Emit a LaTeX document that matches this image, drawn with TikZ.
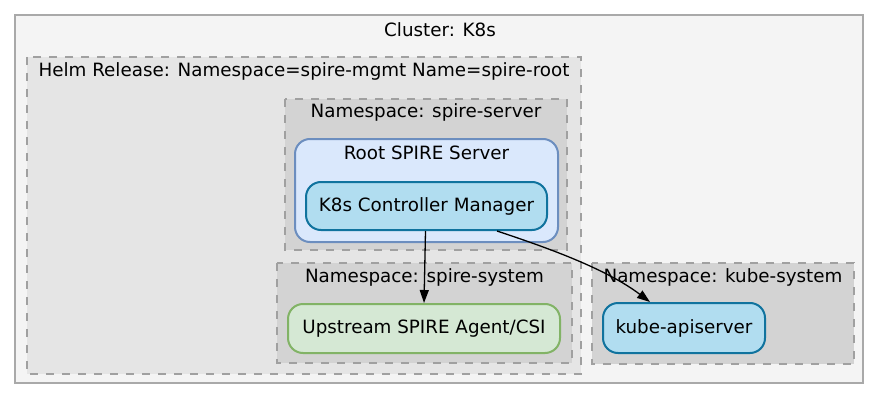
\documentclass[tikz,border=0pt]{standalone}
\usepackage{fontspec}
\setmainfont{DejaVu Sans}
\usetikzlibrary{arrows.meta}
\definecolor{clusterfill}{HTML}{F4F4F4}
\definecolor{clusterline}{HTML}{A9A9A9}
\definecolor{helmfill}{HTML}{E5E5E5}
\definecolor{nsfill}{HTML}{D3D3D3}
\definecolor{dashline}{HTML}{A0A0A0}
\definecolor{serverfill}{HTML}{DAE8FC}
\definecolor{serverline}{HTML}{6C8EBF}
\definecolor{kubefill}{HTML}{B1DDF0}
\definecolor{kubeline}{HTML}{10739E}
\definecolor{agentfill}{HTML}{D5E8D4}
\definecolor{agentline}{HTML}{82B366}
\begin{document}
\begin{tikzpicture}[x=1pt,y=-1pt,
    font=\fontsize{18.3}{22}\selectfont,
    groupbox/.style={draw=dashline, line width=2.5pt, dash pattern=on 8pt off 8pt},
    nodebox/.style={rounded corners=15pt, line width=2pt, inner sep=0pt},
    edge/.style={line width=1.3pt, -{Triangle[length=13pt,width=9pt]}}]
            \path[fill=white] (0,0) rectangle (880,401);
            \useasboundingbox (0,0) rectangle (880,401);
            % cluster and namespaces
            \draw[draw=clusterline, fill=clusterfill, line width=2.5pt] (15,15) rectangle (863,383);
            \node (k8slabel) at (440,30) {Cluster: K8s};
            \draw[groupbox, fill=helmfill] (27,57) rectangle (581,374);
            \node (helmlabel) at (304,71) {Helm Release: Namespace=spire-mgmt Name=spire-root};
            \draw[groupbox, fill=nsfill] (285,99) rectangle (567,250);
            \node (serverns) at (426,112) {Namespace: spire-server};
            \draw[groupbox, fill=nsfill] (277,263) rectangle (572,363);
            \node (systemns) at (424.5,277) {Namespace: spire-system};
            \draw[groupbox, fill=nsfill] (592,263) rectangle (854,364);
            \node (kubens) at (723,277) {Namespace: kube-system};
            % boxes
            \node[nodebox, draw=serverline, fill=serverfill, minimum width=263pt, minimum height=103pt] (root) at (426.5,190.5) {};
            \node (rootlabel) at (426.5,153) {Root SPIRE Server};
            \node[nodebox, draw=kubeline, fill=kubefill, minimum width=241pt, minimum height=48pt] (ctrl) at (426.5,206) {K8s Controller Manager};
            \node[nodebox, draw=agentline, fill=agentfill, minimum width=272pt, minimum height=49pt] (agent) at (424,328.5) {Upstream SPIRE Agent/CSI};
            \node[nodebox, draw=kubeline, fill=kubefill, minimum width=162pt, minimum height=50pt] (api) at (684,328) {kube-apiserver};
            % edges
            \draw[edge] ([xshift=-1pt]ctrl.south) -- ([xshift=0pt]agent.north);
            \draw[edge] ([xshift=70.5pt]ctrl.south) .. controls (545,247) and (605,268) .. ([xshift=-34pt]api.north);
        \end{tikzpicture}
\end{document}
